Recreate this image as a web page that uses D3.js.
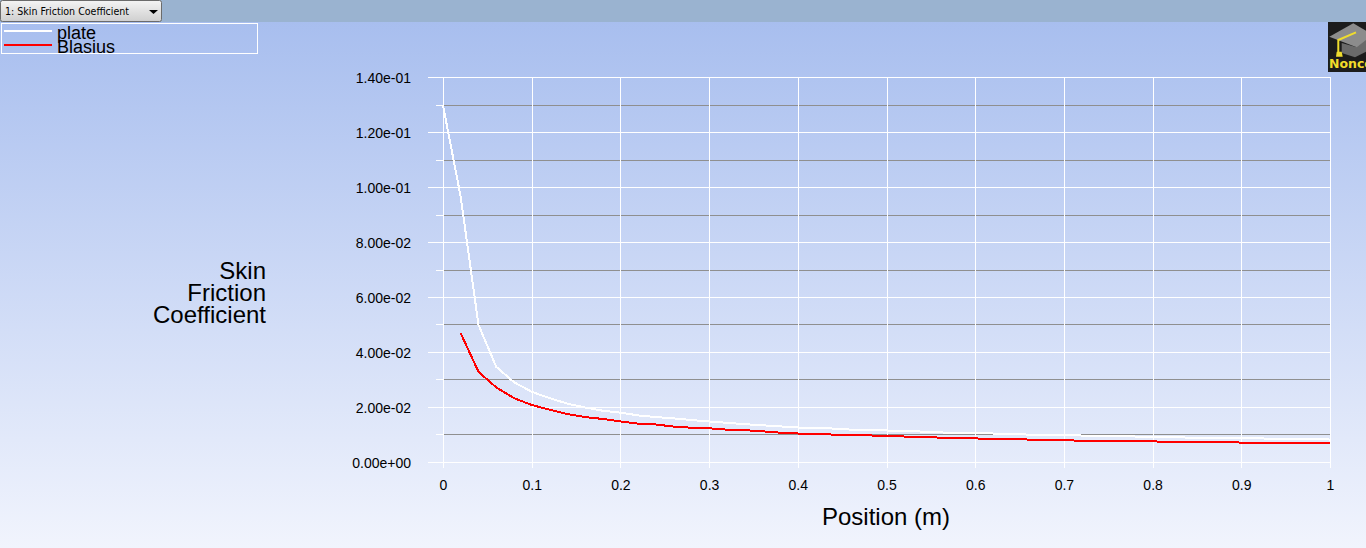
<!DOCTYPE html>
<html>
<head>
<meta charset="utf-8">
<script src="https://cdn.jsdelivr.net/npm/d3@7/dist/d3.min.js"></script>
<style>
  html, body { margin: 0; padding: 0; overflow: hidden; }
  text { font-family: "Liberation Sans", Arial, sans-serif; fill: #000; }
  .os path { display: none; }
  .os line { stroke: #fff; stroke-width: 1; shape-rendering: crispEdges; }
  .os text { font-size: 14px; }
  .sporedna { stroke: #8f8f8f; stroke-width: 1; shape-rendering: crispEdges; }
  .kratka { stroke: #fff; stroke-width: 1; shape-rendering: crispEdges; }
</style>
</head>
<body>
<div id="okvir"></div>
<script>
const naslovIzbornika = "1: Skin Friction Coefficient"
const serije = ["plate", "Blasius"]
const yNaslov = ["Skin", "Friction", "Coefficient"]
const xNaslov = "Position (m)"

const xTicks = [0, 0.1, 0.2, 0.3, 0.4, 0.5, 0.6, 0.7, 0.8, 0.9, 1]
const yTicks = [0, 0.02, 0.04, 0.06, 0.08, 0.1, 0.12, 0.14]
const yMinorTicks = [0.01, 0.03, 0.05, 0.07, 0.09, 0.11, 0.13]

const pozicija = [0, 0.02, 0.04, 0.06, 0.08, 0.1, 0.12, 0.14, 0.16, 0.18, 0.2, 0.22, 0.24, 0.26, 0.28, 0.3, 0.32, 0.34, 0.36, 0.38, 0.4, 0.42, 0.44, 0.46, 0.48, 0.5, 0.52, 0.54, 0.56, 0.58, 0.6, 0.62, 0.64, 0.66, 0.68, 0.7, 0.72, 0.74, 0.76, 0.78, 0.8, 0.82, 0.84, 0.86, 0.88, 0.9, 0.92, 0.94, 0.96, 0.98, 1]

const plate = [0.13, 0.0966, 0.05, 0.0347, 0.0291, 0.0256, 0.0233, 0.0213, 0.0199, 0.0187, 0.018, 0.017, 0.0164, 0.0159, 0.0153, 0.0148, 0.0143, 0.0138, 0.0134, 0.013, 0.0126, 0.0124, 0.0122, 0.0118, 0.0116, 0.0115, 0.0113, 0.0111, 0.0108, 0.0106, 0.0105, 0.0104, 0.0102, 0.01, 0.0099, 0.0098, 0.00966, 0.0095, 0.0094, 0.0093, 0.0092, 0.0091, 0.0089, 0.0089, 0.0088, 0.0087, 0.0086, 0.0085, 0.0084, 0.0083, 0.0082]

// Blasius krece tek od druge tocke
const blasius = [null, 0.0469, 0.0329, 0.0272, 0.0233, 0.0208, 0.0191, 0.0175, 0.0164, 0.0157, 0.0148, 0.014, 0.0137, 0.0129, 0.0125, 0.0123, 0.0118, 0.0116, 0.0112, 0.0107, 0.0104, 0.0102, 0.01, 0.0098, 0.0097, 0.0095, 0.0093, 0.0091, 0.0089, 0.0088, 0.0086, 0.0084, 0.0083, 0.0082, 0.0081, 0.0079, 0.0078, 0.0077, 0.0076, 0.0075, 0.0075, 0.0074, 0.0073, 0.0072, 0.0072, 0.0071, 0.007, 0.007, 0.0069, 0.0068, 0.0068]

const boje = ["#ffffff", "#ff0000"]

const sirina = 1366
const visina = 548
const granica = { lijevo: 443, desno: 1330, gore: 77.99, dolje: 462.02 }

const okvir = d3.select("#okvir")
  .append("svg")
    .attr("width", sirina)
    .attr("height", visina)
    .style("display", "block")

// pozadina
const defs = okvir.append("defs")
const gradijent = defs.append("linearGradient")
    .attr("id", "pozadina")
    .attr("x1", 0).attr("x2", 0).attr("y1", 0).attr("y2", 1)
gradijent.append("stop").attr("offset", "0%").attr("stop-color", "#a5bcee")
gradijent.append("stop").attr("offset", "100%").attr("stop-color", "#f1f4fd")
const gradijentGumb = defs.append("linearGradient")
    .attr("id", "gumb")
    .attr("x1", 0).attr("x2", 0).attr("y1", 0).attr("y2", 1)
gradijentGumb.append("stop").attr("offset", "0%").attr("stop-color", "#f4f4f4")
gradijentGumb.append("stop").attr("offset", "100%").attr("stop-color", "#cfcfcf")

okvir.append("rect")
    .attr("width", sirina).attr("height", visina)
    .attr("fill", "url(#pozadina)")

// traka s izbornikom
okvir.append("rect")
    .attr("width", sirina).attr("height", 22)
    .attr("fill", "#9ab3d0")
okvir.append("rect")
    .attr("x", 0.5).attr("y", 0.5).attr("width", 161).attr("height", 21).attr("rx", 2)
    .attr("fill", "url(#gumb)").attr("stroke", "#6b6b6b")
okvir.append("text")
    .attr("x", 5).attr("y", 15)
    .style("font-family", "'DejaVu Sans', sans-serif")
    .style("font-size", "10.5px")
    .attr("textLength", 124)
    .attr("lengthAdjust", "spacingAndGlyphs")
    .text(naslovIzbornika)
okvir.append("path")
    .attr("d", d3.line()([[149, 10], [158, 10], [153.5, 14]]) + "Z")
    .attr("fill", "#000")

// razmjeri
const xSkala = d3.scaleLinear()
  .domain([0, 1])
  .range([granica.lijevo, granica.desno])

const ySkala = d3.scaleLinear()
  .domain([0, 0.14])
  .range([granica.dolje, granica.gore])

const red = d => Math.floor(ySkala(d)) + 0.5

// sporedna mreza
okvir.append("g").selectAll("line")
  .data(yMinorTicks)
  .enter().append("line")
    .attr("class", "sporedna")
    .attr("x1", xSkala(0))
    .attr("x2", xSkala(1))
    .attr("y1", red)
    .attr("y2", red)

okvir.append("g").selectAll("line")
  .data(yMinorTicks)
  .enter().append("line")
    .attr("class", "kratka")
    .attr("x1", xSkala(0) - 7)
    .attr("x2", xSkala(0))
    .attr("y1", red)
    .attr("y2", red)

// osi
const xOsGenerator = d3.axisBottom(xSkala)
  .tickValues(xTicks)
  .tickSize(391)
  .tickPadding(12)
  .tickFormat(d => d === 0 || d === 1 ? String(d) : d3.format(".1f")(d))

okvir.append("g")
    .attr("class", "os")
    .attr("transform", "translate(0, 77)")
    .call(xOsGenerator)

const yOsGenerator = d3.axisLeft(ySkala)
  .tickValues(yTicks)
  .tickSize(15)
  .tickPadding(17)
  .tickFormat(d3.format(".2e"))

const yOs = okvir.append("g")
    .attr("class", "os")
    .attr("transform", `translate(${granica.lijevo}, 0)`)
    .call(yOsGenerator)

yOs.selectAll(".tick")
    .attr("transform", d => `translate(0, ${red(d)})`)

yOs.selectAll(".tick text")
    .attr("dy", "0.39em")
    .text(d => d3.format(".2e")(d).replace(/e([+-])(\d)$/, "e$10$2"))

yOs.selectAll(".tick").append("line")
    .attr("x1", 0)
    .attr("x2", granica.desno - granica.lijevo)

// krivulje
const linija = d3.line()
  .defined(d => d[1] !== null)
  .x(d => xSkala(d[0]))
  .y(d => ySkala(d[1]))
  .curve(d3.curveLinear)

const vrijednosti = [plate, blasius]
vrijednosti.forEach((serija, i) => {
  okvir.append("path")
      .attr("d", linija(pozicija.map((x, j) => [x, serija[j]])))
      .attr("fill", "none")
      .attr("stroke", boje[i])
      .attr("stroke-width", 2)
      .style("shape-rendering", "crispEdges")
})

// naslovi osi
okvir.append("text")
    .attr("x", 886)
    .attr("y", 525)
    .attr("text-anchor", "middle")
    .style("font-size", "24px")
    .text(xNaslov)

okvir.append("g").selectAll("text")
  .data(yNaslov)
  .enter().append("text")
    .attr("x", 266)
    .attr("y", (d, i) => 279 + i * 22)
    .attr("text-anchor", "end")
    .style("font-size", "24px")
    .text(d => d)

// legenda
okvir.append("rect")
    .attr("x", 1.5).attr("y", 23.5).attr("width", 256).attr("height", 30)
    .attr("fill", "none").attr("stroke", "#fff")

const legenda = okvir.append("g").selectAll("g")
  .data(serije)
  .enter().append("g")
    .attr("transform", (d, i) => `translate(0, ${i * 14})`)

legenda.append("line")
    .attr("x1", 4).attr("x2", 52)
    .attr("y1", 31).attr("y2", 31)
    .attr("stroke", (d, i) => boje[i])
    .attr("stroke-width", 2)
    .style("shape-rendering", "crispEdges")

legenda.append("text")
    .attr("x", 57)
    .attr("y", 39)
    .style("font-size", "18px")
    .text(d => d)

// logo
const logo = okvir.append("g").attr("transform", "translate(1328, 22)")
logo.append("rect").attr("width", 38).attr("height", 50).attr("fill", "#1c1c1c")
logo.append("path")
    .attr("d", "M13.7,21 L13.7,31 L27,35.3 L38,29.7 L38,15 L28,25 Z")
    .attr("fill", "#6a6a6a")
logo.append("path")
    .attr("d", "M1.3,14.7 L25.3,1.3 L38,8.7 L38,18 L28.7,25.3 Z")
    .attr("fill", "#8c8c8c")
logo.append("path")
    .attr("d", "M28,10.3 L10.3,18 L10.3,30")
    .attr("fill", "none").attr("stroke", "#efdc2e").attr("stroke-width", 2)
logo.append("path")
    .attr("d", "M8.7,29.7 L13.7,29.7 L14.7,34.7 L8,34.7 Z")
    .attr("fill", "#efdc2e")
logo.append("text")
    .attr("x", 1)
    .attr("y", 46)
    .style("font-family", "'DejaVu Sans', sans-serif")
    .style("font-size", "12.5px")
    .style("font-weight", "bold")
    .style("fill", "#f2dc2a")
    .text("Nonco")
</script>
</body>
</html>
